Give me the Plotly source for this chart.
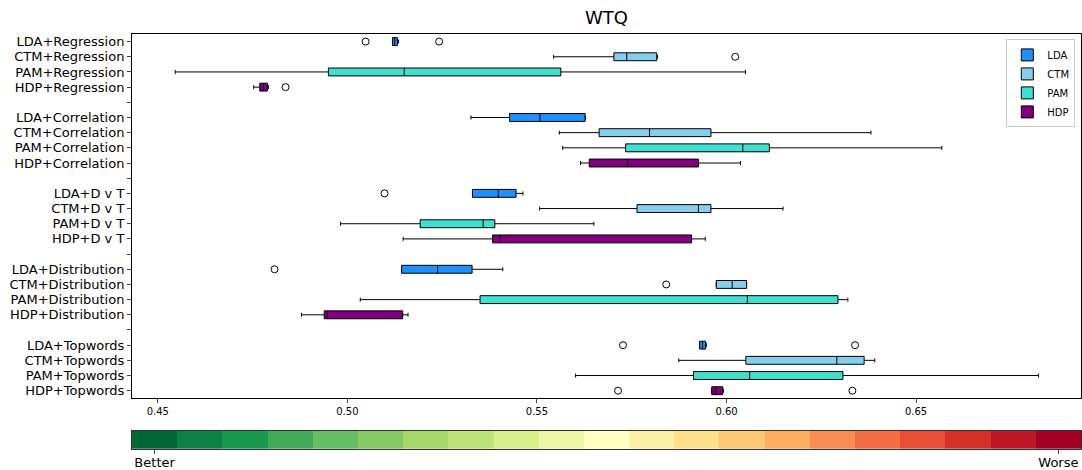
import plotly.graph_objects as go

# ---------------- data ----------------
models = ["LDA", "CTM", "PAM", "HDP"]
methods = ["Regression", "Correlation", "D v T", "Distribution", "Topwords"]
model_colors = ["#1E90FF", "#87CEEB", "#40E0D0", "#800080"]

# stats per row, ordered method-major then model (LDA, CTM, PAM, HDP)
lower = [0.5119, 0.5544, 0.4546, 0.4753,
         0.5326, 0.5559, 0.5568, 0.5615,
         0.5330, 0.5507, 0.4982, 0.5147,
         0.5143, 0.5973, 0.5034, 0.4879,
         0.5929, 0.5874, 0.5602, 0.5961]
q1 = [0.5119, 0.5703, 0.4950, 0.4769,
      0.5428, 0.5664, 0.5734, 0.5638,
      0.5330, 0.5764, 0.5192, 0.5383,
      0.5143, 0.5973, 0.5350, 0.4939,
      0.5929, 0.6051, 0.5913, 0.5961]
median = [0.5125, 0.5737, 0.5150, 0.4778,
          0.5508, 0.5797, 0.6043, 0.5739,
          0.5398, 0.5926, 0.5358, 0.5403,
          0.5238, 0.6015, 0.6055, 0.4947,
          0.5937, 0.6291, 0.6061, 0.5972]
q3 = [0.5132, 0.5816, 0.5563, 0.4789,
      0.5627, 0.5959, 0.6113, 0.5926,
      0.5445, 0.5959, 0.5389, 0.5908,
      0.5329, 0.6053, 0.6294, 0.5146,
      0.5945, 0.6363, 0.6307, 0.5990]
upper = [0.5135, 0.5818, 0.6050, 0.4792,
         0.5628, 0.6381, 0.6568, 0.6037,
         0.5463, 0.6149, 0.5650, 0.5944,
         0.5410, 0.6053, 0.6320, 0.5160,
         0.5947, 0.6391, 0.6823, 0.5992]

outlier_rows = ["LDA+Regression", "LDA+Regression", "CTM+Regression", "HDP+Regression",
                "LDA+D v T", "LDA+Distribution", "CTM+Distribution",
                "LDA+Topwords", "LDA+Topwords", "HDP+Topwords", "HDP+Topwords"]
outlier_vals = [0.5048, 0.5242, 0.6023, 0.4837,
                0.5098, 0.4808, 0.5841,
                0.5727, 0.6339, 0.5714, 0.6332]

x_ticks = [0.45, 0.50, 0.55, 0.60, 0.65]
x_tick_labels = ["0.45", "0.50", "0.55", "0.60", "0.65"]

scale_levels = list(range(21))
scale_labels = ["Better", "Worse"]

# ---------------- layout helpers ----------------
row_labels = []
row_pos = {}
tick_text = []
pos = 0
for gi, meth in enumerate(methods):
    for mod in models:
        lab = f"{mod}+{meth}"
        row_labels.append(lab)
        row_pos[lab] = pos
        tick_text.append(lab)
        pos += 1
    if gi < len(methods) - 1:
        tick_text.append("")
        pos += 1
n_pos = pos

brewer = ["#a50026", "#d73027", "#f46d43", "#fdae61", "#fee08b", "#ffffbf",
          "#d9ef8b", "#a6d96a", "#66bd63", "#1a9850", "#006837"][::-1]


def hex2rgb(h):
    h = h.lstrip("#")
    return tuple(int(h[i:i + 2], 16) for i in (0, 2, 4))


seg_colors = []
for i in scale_levels:
    if i % 2 == 0:
        seg_colors.append(brewer[i // 2])
    else:
        a, b = hex2rgb(brewer[i // 2]), hex2rgb(brewer[i // 2 + 1])
        seg_colors.append("rgb(%d,%d,%d)" % tuple(round((x + y) / 2) for x, y in zip(a, b)))
colorscale = [[i / (len(scale_levels) - 1), c] for i, c in enumerate(seg_colors)]

fig = go.Figure()

for mi, mod in enumerate(models):
    idx = [k for k, lab in enumerate(row_labels) if lab.startswith(mod + "+")]
    fig.add_trace(go.Box(
        name=mod,
        orientation="h",
        y=[row_pos[row_labels[k]] for k in idx],
        q1=[q1[k] for k in idx],
        median=[median[k] for k in idx],
        q3=[q3[k] for k in idx],
        lowerfence=[lower[k] for k in idx],
        upperfence=[upper[k] for k in idx],
        fillcolor=model_colors[mi],
        line=dict(color="black", width=1),
        width=0.52,
        whiskerwidth=0.5,
        boxpoints=False,
        xaxis="x", yaxis="y",
    ))

fig.add_trace(go.Scatter(
    x=outlier_vals,
    y=[row_pos[r] for r in outlier_rows],
    mode="markers",
    marker=dict(symbol="circle-open", size=7, color="black", line=dict(width=1)),
    showlegend=False,
    xaxis="x", yaxis="y",
))

fig.add_trace(go.Heatmap(
    z=[scale_levels],
    x=scale_levels,
    y=[0],
    colorscale=colorscale,
    zmin=scale_levels[0], zmax=scale_levels[-1],
    showscale=False,
    xaxis="x2", yaxis="y2",
    hoverinfo="skip",
))

fig.update_layout(
    width=1082, height=470,
    margin=dict(l=132, r=1, t=34, b=21),
    paper_bgcolor="white", plot_bgcolor="white",
    font=dict(family="DejaVu Sans", color="black"),
    boxmode="overlay",
    title=dict(text="WTQ", x=0.5, xref="paper", xanchor="center",
               y=1 - 18 / 470, yref="container", yanchor="middle",
               font=dict(size=18, color="black")),
    legend=dict(x=0.994, y=0.987, xanchor="right", yanchor="top",
                bgcolor="white", bordercolor="#cccccc", borderwidth=1,
                font=dict(size=10), tracegroupgap=0),
    xaxis=dict(domain=[0, 1], range=[0.4432, 0.6935], anchor="y",
               tickvals=x_ticks, ticktext=x_tick_labels,
               tickfont=dict(size=10), ticks="outside", ticklen=4,
               showgrid=False, zeroline=False, showline=True, mirror=True,
               linecolor="black", linewidth=1, automargin=False),
    yaxis=dict(domain=[0.1222, 1], range=[n_pos - 0.5, -0.5], anchor="x",
               tickvals=list(range(n_pos)), ticktext=tick_text,
               tickfont=dict(size=13), ticks="outside", ticklen=4,
               showgrid=False, zeroline=False, showline=True, mirror=True,
               linecolor="black", linewidth=1, automargin=False),
    xaxis2=dict(domain=[0, 1], range=[-0.5, 20.5], anchor="y2",
                tickvals=[scale_levels[0], scale_levels[-1]], ticktext=scale_labels,
                tickfont=dict(size=13), ticks="outside", ticklen=4,
                ticklabelstandoff=-3,
                showgrid=False, zeroline=False, showline=True, mirror=True,
                linecolor="#333333", linewidth=1, automargin=False),
    yaxis2=dict(domain=[0, 0.0441], range=[-0.5, 0.5], anchor="x2",
                showticklabels=False, ticks="",
                showgrid=False, zeroline=False, showline=True, mirror=True,
                linecolor="#333333", linewidth=1, automargin=False),
)

fig.write_html("out.html")
